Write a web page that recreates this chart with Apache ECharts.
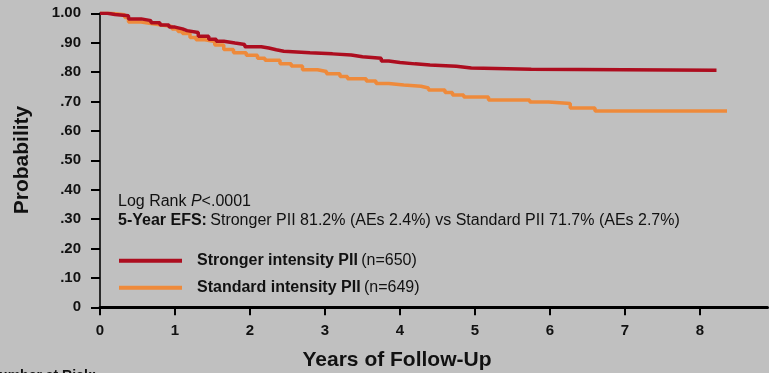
<!DOCTYPE html>
<html>
<head>
<meta charset="utf-8">
<script src="https://cdn.jsdelivr.net/npm/echarts@6/dist/echarts.min.js"></script>
<style>
  html, body { margin: 0; padding: 0; background: #c0c0c0; }
  #chart { width: 769px; height: 373px; }
</style>
</head>
<body>
<div id="chart"></div>
<script>
// Kaplan-Meier event-free survival, [years, probability after each drop]
const strongerPII = [
  [0, 1.0], [0.1, 0.996], [0.2, 0.992], [0.38, 0.981], [0.55, 0.975], [0.68, 0.968],
  [0.8, 0.960], [0.92, 0.953], [1.0, 0.947], [1.1, 0.941], [1.16, 0.935], [1.31, 0.922],
  [1.45, 0.912], [1.55, 0.905], [1.65, 0.899], [1.8, 0.894], [1.93, 0.886], [2.15, 0.882],
  [2.25, 0.876], [2.35, 0.871], [2.45, 0.866], [2.8, 0.862], [3.1, 0.858], [3.35, 0.852],
  [3.5, 0.847], [3.75, 0.838], [3.85, 0.833], [4.0, 0.828], [4.2, 0.824], [4.4, 0.820],
  [4.75, 0.814], [4.95, 0.810], [5.75, 0.806], [8.22, 0.806]
];
const standardPII = [
  [0, 1.0], [0.15, 0.995], [0.33, 0.986], [0.38, 0.970], [0.55, 0.965], [0.68, 0.960],
  [0.82, 0.955], [0.96, 0.947], [1.04, 0.938], [1.1, 0.931], [1.2, 0.918], [1.28, 0.910],
  [1.4, 0.904], [1.53, 0.892], [1.65, 0.877], [1.78, 0.866], [1.95, 0.857], [2.1, 0.847],
  [2.2, 0.840], [2.4, 0.828], [2.55, 0.821], [2.7, 0.808], [2.9, 0.802], [3.02, 0.794],
  [3.2, 0.785], [3.3, 0.777], [3.55, 0.770], [3.68, 0.761], [3.85, 0.756], [4.05, 0.752],
  [4.28, 0.746], [4.38, 0.739], [4.6, 0.731], [4.7, 0.722], [4.85, 0.715], [5.18, 0.705],
  [5.73, 0.698], [5.98, 0.693], [6.27, 0.678], [6.6, 0.668], [8.36, 0.668]
];
const xTicks = [0, 1, 2, 3, 4, 5, 6, 7, 8];
const yTickLabels = ['0', '.10', '.20', '.30', '.40', '.50', '.60', '.70', '.80', '.90', '1.00'];
const seriesNames = ['Stronger intensity PII', 'Standard intensity PII'];
const seriesCounts = ['(n=650)', '(n=649)'];

const RED = '#ad0d1f';
const ORANGE = '#ee8a3b';
const FONT = 'Liberation Sans, Arial, Helvetica, sans-serif';
const TEXT_SIZE = 16;

const chart = echarts.init(document.getElementById('chart'), null, { renderer: 'canvas' });

const legendRow = (i, y, color) => [
  {
    type: 'line', z: 10,
    shape: { x1: 119, y1: y, x2: 182, y2: y },
    style: { stroke: color, lineWidth: 4 }
  },
  {
    type: 'text', z: 10, x: 197, y: y,
    style: {
      text: '{b|' + seriesNames[i] + '} {n|' + seriesCounts[i] + '}',
      verticalAlign: 'middle',
      rich: {
        b: { fontFamily: FONT, fontSize: TEXT_SIZE, fontWeight: 'bold', fill: '#111' },
        n: { fontFamily: FONT, fontSize: TEXT_SIZE, fill: '#111' }
      }
    }
  }
];

chart.setOption({
  backgroundColor: '#c0c0c0',
  animation: false,
  grid: { left: 100, top: 13.3, right: 1.5, bottom: 65.7 },
  xAxis: {
    type: 'value', min: 0, max: 8.9, interval: 1,
    axisLine: { show: true, onZero: false, lineStyle: { color: '#000', width: 3 } },
    axisTick: { show: true, length: 8, lineStyle: { color: '#000', width: 2 } },
    axisLabel: {
      margin: 16, fontFamily: FONT, fontSize: 15, fontWeight: 'bold', color: '#111',
      showMaxLabel: false,
      formatter: v => (xTicks.includes(v) ? String(v) : '')
    },
    splitLine: { show: false }
  },
  yAxis: {
    type: 'value', min: 0, max: 1, interval: 0.1,
    axisLine: { show: true, lineStyle: { color: '#2a2a2a', width: 2 } },
    axisTick: { show: true, length: 9, lineStyle: { color: '#000', width: 2 } },
    axisLabel: {
      margin: 19, fontFamily: FONT, fontSize: 15, fontWeight: 'bold', color: '#111',
      formatter: v => yTickLabels[Math.round(v * 10)]
    },
    splitLine: { show: false }
  },
  series: [
    {
      name: seriesNames[0], type: 'line', step: 'end', data: strongerPII,
      showSymbol: false, lineStyle: { color: RED, width: 3.5 }, z: 3
    },
    {
      name: seriesNames[1], type: 'line', step: 'end', data: standardPII,
      showSymbol: false, lineStyle: { color: ORANGE, width: 3.5 }, z: 2
    }
  ],
  graphic: [
    {
      type: 'text', x: 22, y: 160, rotation: Math.PI / 2,
      style: {
        text: 'Probability', fontFamily: FONT, fontSize: 21, fontWeight: 'bold',
        fill: '#111', align: 'center', verticalAlign: 'middle'
      }
    },
    {
      type: 'text', x: 397, y: 360,
      style: {
        text: 'Years of Follow-Up', fontFamily: FONT, fontSize: 21, fontWeight: 'bold',
        fill: '#111', align: 'center', verticalAlign: 'middle'
      }
    },
    {
      type: 'text', x: 118, y: 202,
      style: {
        text: '{n|Log Rank }{i|P}{n|<.0001}', verticalAlign: 'middle',
        rich: {
          n: { fontFamily: FONT, fontSize: TEXT_SIZE, fill: '#111' },
          i: { fontFamily: FONT, fontSize: TEXT_SIZE, fontStyle: 'italic', fill: '#111' }
        }
      }
    },
    {
      type: 'text', x: 118, y: 221,
      style: {
        text: '{b|5-Year EFS:} {n|Stronger PII 81.2% (AEs 2.4%) vs Standard PII 71.7% (AEs 2.7%)}',
        verticalAlign: 'middle',
        rich: {
          b: { fontFamily: FONT, fontSize: TEXT_SIZE, fontWeight: 'bold', fill: '#111' },
          n: { fontFamily: FONT, fontSize: TEXT_SIZE, fill: '#111' }
        }
      }
    },
    ...legendRow(0, 260.7, RED),
    ...legendRow(1, 287.7, ORANGE),
    {
      type: 'text', x: -11, y: 369,
      style: {
        text: 'Number at Risk:', fontFamily: FONT, fontSize: 14, fontWeight: 'bold',
        fill: '#111', verticalAlign: 'top'
      }
    }
  ]
});
</script>
</body>
</html>
